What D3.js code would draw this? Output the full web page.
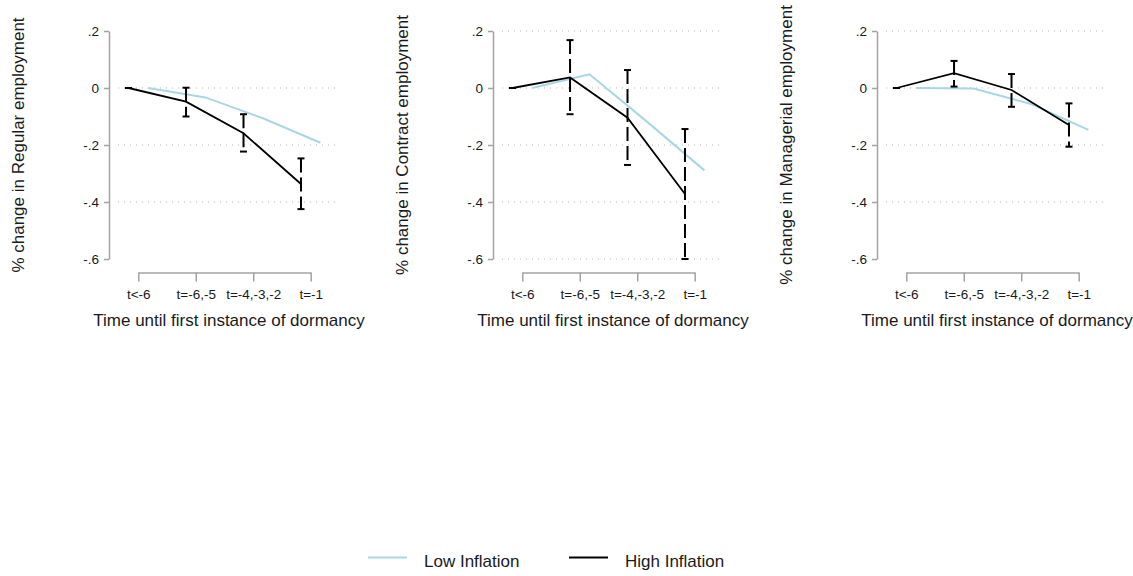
<!DOCTYPE html>
<html>
<head>
<meta charset="utf-8">
<script src="https://cdn.jsdelivr.net/npm/d3@7"></script>
<style>
  html, body { margin: 0; padding: 0; background: #fff; }
  svg { display: block; font-family: "Liberation Sans", Arial, sans-serif; }
</style>
</head>
<body>
<svg id="chart" width="1133" height="576"></svg>
<script>
// ---------- data ----------
const categories = ["t<-6", "t=-6,-5", "t=-4,-3,-2", "t=-1"];
const yTickValues = [0.2, 0, -0.2, -0.4, -0.6];
const yTickLabels = [".2", "0", "-.2", "-.4", "-.6"];
const panelTitles = ["% change in Regular employment", "% change in Contract employment", "% change in Managerial employment"];
const xTitle = "Time until first instance of dormancy";
const seriesNames = ["Low Inflation", "High Inflation"];

// Regular employment
const regularLow = [0, -0.033, -0.106, -0.192];
const regularHigh = [0, -0.048, -0.159, -0.337];
const regularHighLo = [0, -0.100, -0.223, -0.425];
const regularHighHi = [0, 0.001, -0.092, -0.247];
const regularGrid = [0, -0.2, -0.4];

// Contract employment
const contractLow = [0, 0.048, -0.118, -0.289];
const contractHigh = [0, 0.037, -0.104, -0.372];
const contractHighLo = [0, -0.092, -0.270, -0.600];
const contractHighHi = [0, 0.168, 0.063, -0.144];
const contractGrid = [0.2, 0, -0.2, -0.4, -0.6];

// Managerial employment
const managerialLow = [0, -0.002, -0.056, -0.147];
const managerialHigh = [0, 0.052, -0.007, -0.130];
const managerialHighLo = [0, 0.005, -0.066, -0.206];
const managerialHighHi = [0, 0.095, 0.049, -0.054];
const managerialGrid = [0.2, 0, -0.2, -0.4];

const panels = [
  { title: panelTitles[0], low: regularLow, high: regularHigh, lo: regularHighLo, hi: regularHighHi, grid: regularGrid },
  { title: panelTitles[1], low: contractLow, high: contractHigh, lo: contractHighLo, hi: contractHighHi, grid: contractGrid },
  { title: panelTitles[2], low: managerialLow, high: managerialHigh, lo: managerialHighLo, hi: managerialHighHi, grid: managerialGrid }
];

// ---------- styling / layout ----------
const lowColor = "#a9d6e3";
const highColor = "#000000";
const axisColor = "#a3a3a3";
const textColor = "#1a1a1a";
const panelStep = 384;
const offset = 0.169;

const svg = d3.select("#chart");

panels.forEach((p, i) => {
  const dx = i * panelStep;
  const axisX = 109 + dx;
  const g = svg.append("g");

  const x = d3.scaleLinear().domain([0.647, 4.51]).range([axisX + 9, axisX + 231]);
  const y = d3.scaleLinear().domain([-0.6, 0.2]).range([259, 31]);

  // gridlines
  g.append("g").selectAll("line").data(p.grid).join("line")
    .attr("x1", x.range()[0]).attr("x2", x.range()[1])
    .attr("y1", d => y(d)).attr("y2", d => y(d))
    .attr("stroke", "#b5b5b5").attr("stroke-width", 1)
    .attr("stroke-dasharray", "1,5");

  // y axis
  const yAxis = d3.axisLeft(y).tickValues(yTickValues)
    .tickFormat((d, k) => yTickLabels[k]).tickSize(5).tickSizeOuter(0).tickPadding(5);
  const ya = g.append("g").attr("transform", `translate(${axisX},0)`).call(yAxis);
  ya.selectAll("path, line").attr("stroke", axisColor).attr("stroke-width", 1.5);
  ya.selectAll("text").attr("fill", textColor).attr("font-size", 13.5)
    .attr("font-family", "'Liberation Sans', Arial, sans-serif");

  // x axis (categorical, spans first to last tick)
  const xp = d3.scalePoint().domain(categories).range([x(1), x(4)]);
  const xAxis = d3.axisBottom(xp).tickSize(9).tickSizeOuter(0).tickPadding(8);
  const xa = g.append("g").attr("transform", "translate(0,272.5)").call(xAxis);
  xa.selectAll("path, line").attr("stroke", axisColor).attr("stroke-width", 1.5);
  xa.selectAll("text").attr("fill", textColor).attr("font-size", 13.5)
    .attr("font-family", "'Liberation Sans', Arial, sans-serif");

  // titles
  g.append("text")
    .attr("transform", `translate(${24 + dx},145) rotate(-90)`)
    .attr("text-anchor", "middle").attr("font-size", 17).attr("fill", textColor)
    .text(p.title);
  g.append("text")
    .attr("x", (x.range()[0] + x.range()[1]) / 2).attr("y", 326)
    .attr("text-anchor", "middle").attr("font-size", 17).attr("fill", textColor)
    .text(xTitle);

  // low inflation line
  const lowLine = d3.line().x((d, k) => x(k + 1 + offset)).y(d => y(d));
  g.append("path").datum(p.low).attr("d", lowLine)
    .attr("fill", "none").attr("stroke", lowColor).attr("stroke-width", 2);

  // high inflation CIs
  const ci = p.high.map((v, k) => ({ k, lo: p.lo[k], hi: p.hi[k] }));
  const cig = g.append("g");
  cig.selectAll("line.ci").data(ci).join("line").attr("class", "ci")
    .attr("x1", d => x(d.k + 1 - offset)).attr("x2", d => x(d.k + 1 - offset))
    .attr("y1", d => y(d.hi)).attr("y2", d => y(d.lo))
    .attr("stroke", highColor).attr("stroke-width", 2)
    .attr("stroke-dasharray", "14,5");
  ["hi", "lo"].forEach(key => {
    cig.selectAll("line.cap-" + key).data(ci).join("line").attr("class", "cap-" + key)
      .attr("x1", d => x(d.k + 1 - offset) - 3.5).attr("x2", d => x(d.k + 1 - offset) + 3.5)
      .attr("y1", d => y(d[key])).attr("y2", d => y(d[key]))
      .attr("stroke", highColor).attr("stroke-width", 2);
  });

  // high inflation line
  const highLine = d3.line().x((d, k) => x(k + 1 - offset)).y(d => y(d));
  g.append("path").datum(p.high).attr("d", highLine)
    .attr("fill", "none").attr("stroke", highColor).attr("stroke-width", 1.8);
});

// legend
const legend = svg.append("g");
const legendItems = [
  { name: seriesNames[0], color: lowColor, x: 368 },
  { name: seriesNames[1], color: highColor, x: 569 }
];
legendItems.forEach(it => {
  legend.append("line").attr("x1", it.x).attr("x2", it.x + 39)
    .attr("y1", 557.5).attr("y2", 557.5)
    .attr("stroke", it.color).attr("stroke-width", 2);
  legend.append("text").attr("x", it.x + 56).attr("y", 566.5)
    .attr("font-size", 17).attr("fill", textColor).text(it.name);
});
</script>
</body>
</html>
